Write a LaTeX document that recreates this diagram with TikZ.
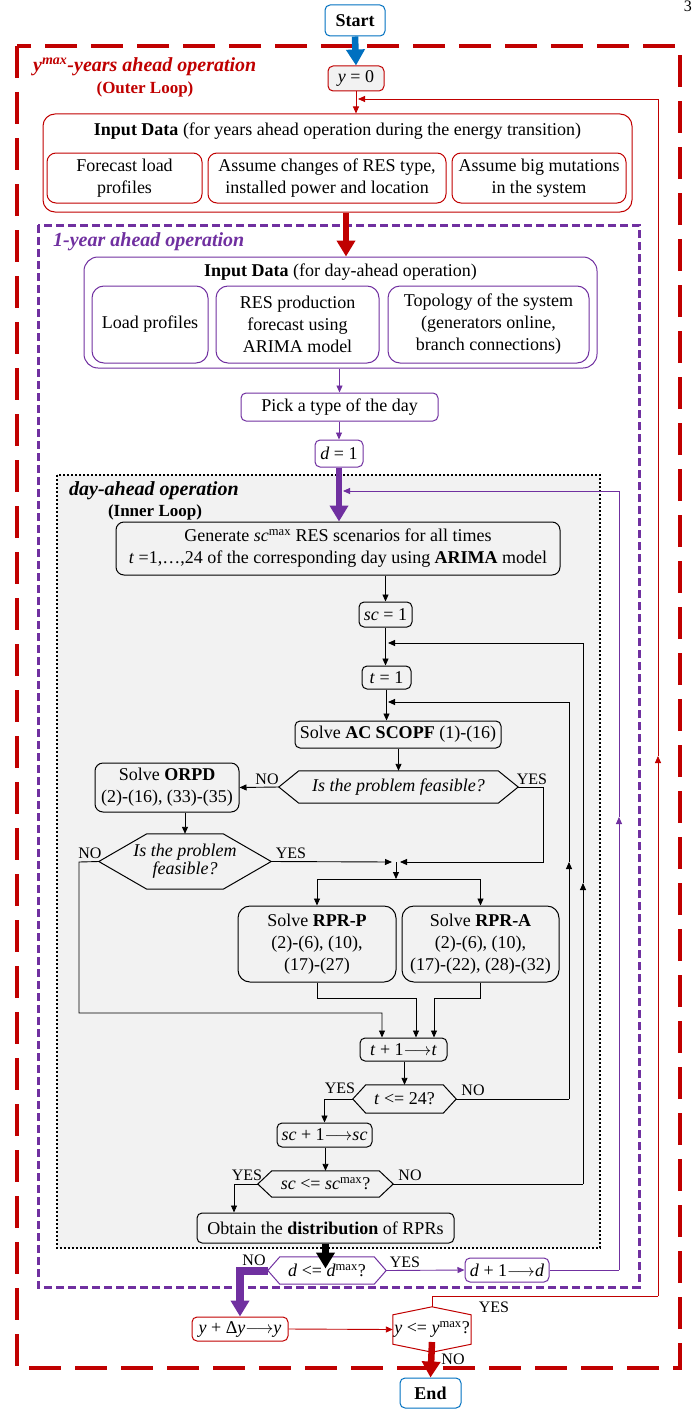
\documentclass[tikz,border=0pt]{standalone}
\usepackage{fontspec}
\setmainfont{Liberation Serif}
\usetikzlibrary{arrows.meta,calc}
\definecolor{cred}{HTML}{C00000}
\definecolor{cpur}{HTML}{7030A0}
\definecolor{cblue}{HTML}{0070C0}
\definecolor{cgray}{HTML}{F2F2F2}
\newcommand\fsb{\fontsize{18}{22}\selectfont}
\newcommand\fsl{\fontsize{16}{19}\selectfont}
\newcommand\fst{\fontsize{20}{24}\selectfont}
\newcommand\fsm{\fontsize{17}{20}\selectfont}
\newcommand\LRA{\(\longrightarrow\)}
\newcommand\hexh[3]{\draw[#3] (#1.west) -- ([xshift=#2]#1.north west) -- ([xshift=-#2]#1.north east) -- (#1.east) -- ([xshift=-#2]#1.south east) -- ([xshift=#2]#1.south west) -- cycle;}
\newcommand\hexv[3]{\draw[#3] (#1.north) -- ([yshift=-#2]#1.north east) -- ([yshift=#2]#1.south east) -- (#1.south) -- ([yshift=#2]#1.south west) -- ([yshift=-#2]#1.north west) -- cycle;}
\begin{document}
\begin{tikzpicture}[x=1pt,y=-1pt,
  every node/.style={font=\fsb, inner sep=0pt},
  box/.style={draw, rounded corners=5pt, align=center, line width=1pt},
  rbox/.style={box, draw=cred},
  pbox/.style={box, draw=cpur},
  kbox/.style={box, draw=black},
  bbox/.style={box, draw=cblue},
  hexn/.style={align=center},
  lab/.style={font=\fsl},
  ln/.style={line width=0.9pt, -{Triangle[length=7pt,width=6pt]}},
  pl/.style={line width=0.9pt},
  thk/.style={line width=6.5pt, -{Triangle[length=16pt,width=18pt]}},
  hexline/.style={line width=1pt}
]
\useasboundingbox (0,0) rectangle (695,1410);

% frames
\draw[cred, line width=4.5pt, dash pattern=on 32pt off 14pt] (17,46) rectangle (680,1368);
\draw[cpur, line width=3pt, dash pattern=on 8pt off 4pt] (38,225) rectangle (639,1287);
\draw[black, fill=cgray, line width=2pt, dash pattern=on 2pt off 2pt] (57,475) rectangle (600,1248);

\node[anchor=north east, font=\fontsize{16}{18}\selectfont] (pg) at (692,1) {3};

% titles
\node[anchor=west, font=\fst\bfseries\itshape, text=cred] (ttl1) at (33,67) {y\textsuperscript{max}-years ahead operation};
\node[font=\fsm\bfseries, text=cred] (ttl1b) at (145,89) {(Outer Loop)};
\node[anchor=west, font=\fst\bfseries\itshape, text=cpur] (ttl2) at (53,242) {1-year ahead operation};
\node[anchor=west, font=\fst\bfseries\itshape] (ttl3) at (69,491) {day-ahead operation};
\node[font=\fsm\bfseries] (ttl3b) at (155,512) {(Inner Loop)};

% nodes
\node[bbox, font=\fsb\bfseries, minimum width=60pt, minimum height=31pt] (start) at (355,20.5) {Start};
\node[rbox, fill=cgray, minimum width=56pt, minimum height=25pt] (y0) at (356,78.5) {\textit{y} = 0};
\node[rbox, rounded corners=12pt, minimum width=589pt, minimum height=98pt] (inyear) at (337.5,163) {};
\node (inyeart) at (337.5,131) {\textbf{Input Data} (for years ahead operation during the energy transition)};
\node[rbox, rounded corners=9pt, minimum width=155pt, minimum height=50pt] (f1) at (124.5,178) {Forecast load\\profiles};
\node[rbox, rounded corners=9pt, minimum width=238pt, minimum height=50pt] (f2) at (327,178) {Assume changes of RES type,\\installed power and location};
\node[rbox, rounded corners=9pt, minimum width=174pt, minimum height=50pt] (f3) at (539,178) {Assume big mutations\\in the system};

\node[pbox, rounded corners=14pt, minimum width=513pt, minimum height=111pt] (inday) at (340.5,312.5) {};
\node (indayt) at (340.5,272) {\textbf{Input Data} (for day-ahead operation)};
\node[pbox, rounded corners=12pt, minimum width=116pt, minimum height=77pt] (g1) at (150,324.5) {Load profiles};
\node[pbox, rounded corners=12pt, minimum width=163pt, minimum height=77pt] (g2) at (297.5,324.5) {RES production\\forecast using\\ARIMA model};
\node[pbox, rounded corners=12pt, minimum width=201pt, minimum height=77pt] (g3) at (488.5,324.5) {Topology of the system\\(generators online,\\branch connections)};
\node[pbox, minimum width=197pt, minimum height=28pt] (pick) at (339.5,407) {Pick a type of the day};
\node[pbox, minimum width=48pt, minimum height=27pt] (d1) at (339,453.5) {\textit{d} = 1};

\node[kbox, rounded corners=8pt, minimum width=444pt, minimum height=53pt] (gen) at (338,548.5) {Generate \textit{sc}\textsuperscript{max} RES scenarios for all times\\\textit{t} =1,\ldots,24 of the corresponding day using \textbf{ARIMA} model};
\node[kbox, minimum width=53pt, minimum height=25pt] (sc1) at (385.5,614.5) {\textit{sc} = 1};
\node[kbox, minimum width=49pt, minimum height=23pt] (t1) at (386.5,677.5) {\textit{t} = 1};
\node[kbox, minimum width=206pt, minimum height=27pt] (scopf) at (398,734.5) {Solve \textbf{AC SCOPF} (1)-(16)};
\node[hexn, font=\fsb\itshape, minimum width=239pt, minimum height=32pt] (dec1) at (398.5,787) {Is the problem feasible?};
\hexh{dec1}{20pt}{hexline}
\node[kbox, rounded corners=8pt, minimum width=144pt, minimum height=49pt] (orpd) at (167,787.5) {Solve \textbf{ORPD}\\(2)-(16), (33)-(35)};
\node[hexn, font=\fontsize{18}{18}\selectfont\itshape, minimum width=172pt, minimum height=55pt] (dec2) at (185,861.5) {Is the problem\\feasible?};
\hexh{dec2}{48pt}{hexline}
\node[kbox, rounded corners=12pt, minimum width=158pt, minimum height=76pt] (rprp) at (317,944) {Solve \textbf{RPR-P}\\(2)-(6), (10),\\(17)-(27)};
\node[kbox, rounded corners=12pt, minimum width=157pt, minimum height=76pt] (rpra) at (480.5,944) {Solve \textbf{RPR-A}\\(2)-(6), (10),\\(17)-(22), (28)-(32)};
\node[kbox, minimum width=87pt, minimum height=23pt] (tinc) at (403.5,1049.5) {\textit{t} + 1\LRA\textit{t}};
\node[hexn, minimum width=103pt, minimum height=28pt] (dec3) at (404.5,1099) {\textit{t} <= 24?};
\hexh{dec3}{13pt}{hexline}
\node[kbox, minimum width=95pt, minimum height=24pt] (scinc) at (324.5,1135) {\textit{sc} + 1\LRA\textit{sc}};
\node[hexn, minimum width=135pt, minimum height=26pt] (dec4) at (325.5,1184) {\textit{sc} <= \textit{sc}\textsuperscript{max}?};
\hexh{dec4}{14pt}{hexline}
\node[kbox, minimum width=257pt, minimum height=30pt] (obtain) at (325.5,1228) {Obtain the \textbf{distribution} of RPRs};
\node[hexn, minimum width=118pt, minimum height=27pt] (dec5) at (327,1270.5) {\textit{d} <= \textit{d}\textsuperscript{max}?};
\hexh{dec5}{12pt}{hexline, draw=cpur}
\node[pbox, minimum width=84pt, minimum height=24pt] (dinc) at (507,1270) {\textit{d} + 1\LRA\textit{d}};
\node[rbox, minimum width=96pt, minimum height=24pt] (yinc) at (240,1329) {\textit{y} + Δ\textit{y}\LRA\textit{y}};
\node[hexn, minimum width=78pt, minimum height=45pt] (ydec) at (432,1329.5) {\textit{y} <= \textit{y}\textsuperscript{max}?};
\hexv{ydec}{8pt}{hexline, draw=cred}
\node[bbox, font=\fsb\bfseries, minimum width=61pt, minimum height=30pt] (end) at (430.5,1393) {End};

% coordinates
\coordinate (ry1) at (432,1296);
\coordinate (ry2) at (658,1296);
\coordinate (ry3) at (658,756);
\coordinate (ry4) at (658,99);
\coordinate (ry5) at (358,99);
\coordinate (pl1) at (619,1270);
\coordinate (pl2) at (619,817);
\coordinate (pl3) at (619,491);
\coordinate (pl4) at (343,491);
\coordinate (sl1) at (583,1184);
\coordinate (sl2) at (583,883);
\coordinate (sl3) at (583,643);
\coordinate (sl4) at (388,643);
\coordinate (tl1) at (569,1099);
\coordinate (tl2) at (569,862);
\coordinate (tl3) at (569,702);
\coordinate (tl4) at (388,702);
\coordinate (y1a) at (543,787);
\coordinate (y1b) at (543,862);
\coordinate (y1c) at (400,862);
\coordinate (y2a) at (392,862);
\coordinate (jn) at (396,862);
\coordinate (split) at (396,879);
\coordinate (n1) at (79,862);
\coordinate (n2) at (79,1013);
\coordinate (n3) at (382,1013);
\coordinate (rp1) at (317,998);
\coordinate (rp2) at (416,998);
\coordinate (ra1) at (480.5,998);
\coordinate (ra2) at (434,998);
\coordinate (c4) at (234,1184);
\coordinate (yd2) at (432,1342);

% connectors
\draw[cblue, thk] (start.south) -- (y0.north);
\draw[cred, ln] (y0.south) -- (y0.south |- inyear.north);
\draw[cred, pl] (ydec.north) -- (ry1) -- (ry2);
\draw[cred, ln] (ry2) -- (ry3);
\draw[cred, ln] (ry3) -- (ry4) -- (ry5);
\path (inyear.south) ++(8.5,0) coordinate (tr1);
\draw[cred, thk] (tr1) -- (tr1 |- inday.north);

\draw[cpur, ln] (inday.south -| pick.north) -- (pick.north);
\draw[cpur, ln] (pick.south -| d1.north) -- (d1.north);
\draw[cpur, thk] (d1.south) -- (d1.south |- gen.north);
\draw[cpur, pl] (dinc.east) -- (pl1);
\draw[cpur, ln] (pl1) -- (pl2);
\draw[cpur, ln] (pl2) -- (pl3) -- (pl4);

\draw[ln] (gen.south -| sc1.north) -- (sc1.north);
\draw[ln] (sc1.south) -- (sc1.south |- t1.north);
\draw[ln] (t1.south) -- (t1.south |- scopf.north);
\draw[ln] (scopf.south -| dec1.north) -- (dec1.north);
\draw[pl] (dec4.east) -- (sl1);
\draw[ln] (sl1) -- (sl2);
\draw[ln] (sl2) -- (sl3) -- (sl4);
\draw[pl] (dec3.east) -- (tl1);
\draw[ln] (tl1) -- (tl2);
\draw[ln] (tl2) -- (tl3) -- (tl4);
\draw[ln] (dec1.west) -- (orpd.east);
\draw[ln] (dec1.east) -- (y1a) -- (y1b) -- (y1c);
\draw[ln] (orpd.south -| dec2.north) -- (dec2.north);
\draw[ln] (dec2.east) -- (y2a);
\draw[ln] (jn) -- (split);
\draw[ln] (split) -| (rprp.north);
\draw[ln] (split) -| (rpra.north);
\draw[ln] (dec2.west) -- (n1) -- (n2) -- (n3) -- (n3 |- tinc.north);
\draw[ln] (rprp.south) -- (rp1) -- (rp2) -- (rp2 |- tinc.north);
\draw[ln] (rpra.south) -- (ra1) -- (ra2) -- (ra2 |- tinc.north);
\draw[ln] (tinc.south -| dec3.north) -- (dec3.north);
\draw[ln] (dec3.west) -| (scinc.north);
\draw[ln] (scinc.south -| dec4.north) -- (dec4.north);
\draw[ln] (dec4.west) -- (c4) -- (c4 |- obtain.north);
\draw[thk] (obtain.south) -- ++(0,25);
\draw[cpur, ln] (dec5.east) -- (dinc.west);
\draw[cpur, thk, line width=8pt, line join=miter] (dec5.west) -| (yinc.north);
\draw[cred, ln] (yinc.east) -- (ydec.west);
\draw[cred, thk] (yd2) -- (end.north);

% labels
\node[lab] (l1n) at (267,779) {NO};
\node[lab] (l1y) at (532,779) {YES};
\node[lab] (l2n) at (90,853) {NO};
\node[lab] (l2y) at (291,853) {YES};
\node[lab] (l3y) at (340,1088) {YES};
\node[lab] (l3n) at (473,1090) {NO};
\node[lab] (l4y) at (247,1175) {YES};
\node[lab] (l4n) at (410,1175) {NO};
\node[lab] (l5n) at (254,1260) {NO};
\node[lab] (l5y) at (405,1262) {YES};
\node[lab] (l6y) at (494,1307) {YES};
\node[lab] (l6n) at (453,1359) {NO};
\end{tikzpicture}
\end{document}
